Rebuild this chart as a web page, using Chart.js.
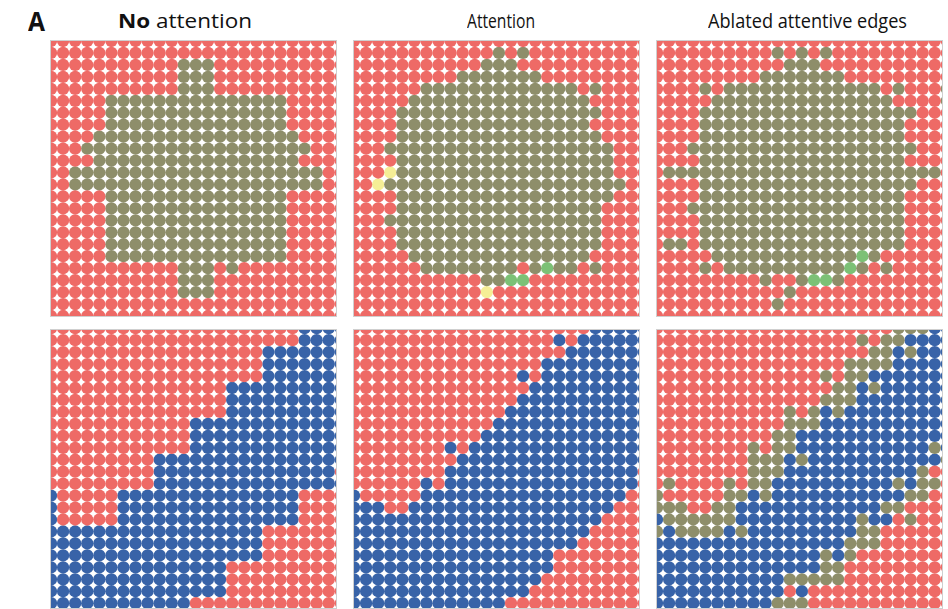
<!DOCTYPE html>
<html>
<head>
<meta charset="utf-8">
<script src="https://cdn.jsdelivr.net/npm/chart.js@4.4.0/dist/chart.umd.min.js"></script>
<style>
  body { margin: 0; background: #fff; }
  #page { position: relative; width: 948px; height: 609px; overflow: hidden; }
  .panel { position: absolute; border: 1px solid #cfcfcf; }
  .panel canvas { display: block; }
  .txt { position: absolute; white-space: nowrap; color: #111;
         font-family: "Open Sans", "Noto Sans", sans-serif;
         transform-origin: 0 0; }
</style>
</head>
<body>
<div id="page"></div>
<script>
// cell states: . red, o olive, # blue, y yellow, g green
const stateColors = {
  '.': '#ee6a66',
  'o': '#8e8e6a',
  '#': '#3863a8',
  'y': '#f5ee96',
  'g': '#7cc176'
};

const panelTitles = ['No attention', 'Attention', 'Ablated attentive edges'];

const noAttentionTop = [
  ".........................",
  ".........................",
  "...........ooo...........",
  "...........ooo...........",
  "...........ooo...........",
  ".....ooooooooooooooo.....",
  ".....ooooooooooooooo.....",
  ".....ooooooooooooooo.....",
  "....ooooooooooooooooo....",
  "...ooooooooooooooooooo...",
  "....ooooooooooooooooo....",
  "..ooooooooooooooooooooo..",
  "..ooooooooooooooooooooo..",
  ".....ooooooooooooooo.....",
  ".....ooooooooooooooo.....",
  ".....ooooooooooooooo.....",
  ".....ooooooooooooooo.....",
  ".....ooooooooooooooo.....",
  ".....ooooooooooooooo.....",
  "...........ooo.o.........",
  "...........ooo...........",
  "...........ooo...........",
  ".........................",
  "........................."
];

const attentionTop = [
  ".........................",
  "............o.o..........",
  "...........ooo...........",
  ".........ooooooo.........",
  "......ooooooooooooo.o....",
  ".....ooooooooooooooo.....",
  "....ooooooooooooooooo....",
  "....oooooooooooooooo.....",
  "....ooooooooooooooooo....",
  "...ooooooooooooooooooo...",
  "....oooooooooooooooooo...",
  "...yoooooooooooooooooo...",
  "..yoooooooooooooooooooo..",
  "....oooooooooooooooooo...",
  "....ooooooooooooooooo....",
  "...oooooooooooooooooo....",
  "....ooooooooooooooooo....",
  "....ooooooooooooooooo....",
  ".....ooooooooooooooo.....",
  "......oooooooo.ogoo.o....",
  "...........oogg..........",
  "...........y.............",
  ".........................",
  "........................."
];

const ablatedTop = [
  ".........................",
  "..........o.o.o..........",
  "...........ooo...........",
  ".........ooooooo.........",
  "....o.ooooooooooooo.o...o",
  ".....ooooooooooooooo....o",
  "....oooooooooooooooooo...",
  "....ooooooooooooooooo....",
  "....ooooooooooooooooo....",
  "...ooooooooooooooooooo...",
  "....ooooooooooooooooo....",
  ".ooooooooooooooooooooooo.",
  "....oooooooooooooooooo...",
  "....ooooooooooooooooo....",
  "...oooooooooooooooooo....",
  "....ooooooooooooooooo....",
  "....ooooooooooooooooo....",
  ".oo.ooooooooooooooooo....",
  ".....oooooooooooogo......",
  "....o.oooooooooogo.o.....",
  ".........o..oggo.........",
  "...........o.............",
  "..........o..............",
  "........................."
];

const noAttentionBottom = [
  ".....................####",
  ".....................####",
  "..................#######",
  "..................#######",
  "..................#######",
  "...............##########",
  "...............##########",
  "...............##########",
  "............#############",
  "............#############",
  "............#############",
  ".........################",
  ".........###############.",
  ".........################",
  "#.....###############....",
  "#.....###############....",
  "#.....###############....",
  "##################.......",
  "##################.......",
  "##################.......",
  "###############..........",
  "###############..........",
  "###############..........",
  "############............."
];

const attentionBottom = [
  "....................#####",
  ".................#.######",
  "..................#######",
  "................#########",
  "..............#.#########",
  "...............##########",
  "..............###########",
  ".............############",
  "............#############",
  "...........##############",
  "........#.###############",
  ".........################",
  "........################.",
  "......#.################.",
  "#.....#################..",
  "###..#################...",
  "#####################....",
  "####################.....",
  "###################......",
  "#################........",
  "#################........",
  "################.........",
  "###############..........",
  "#############............"
];

const ablatedBottom = [
  "....................ooo##",
  ".................o.oo####",
  "..................oo#o###",
  "................oooo#####",
  "..............o.oo#######",
  "...............oo#o######",
  "..............ooo########",
  "...........o.o#o#########",
  "...........ooo###########",
  "..........oo#############",
  "........o.oo###########o#",
  "........ooo#o###########o",
  "........ooo###########o..",
  ".o....o.oo##########o#oo.",
  "o.....oo#o###########oo..",
  "ooo..oo############oo....",
  "#oooooo##########o##.o...",
  "o#oooo#o#########oo......",
  "################ooo......",
  "##############o#o........",
  "##############oo.........",
  "###########ooooo.........",
  "###########.#............",
  "##########ooo............"
];

const page = document.getElementById('page');

// text: "A" label and the three column headings
function addText(html, left, top, size, weight, fitWidth) {
  const el = document.createElement('div');
  el.className = 'txt';
  el.innerHTML = html;
  el.style.left = left + 'px';
  el.style.top = top + 'px';
  el.style.fontSize = size + 'px';
  el.style.lineHeight = size + 'px';
  el.style.fontWeight = weight;
  page.appendChild(el);
  if (fitWidth) {
    const w = el.getBoundingClientRect().width;
    el.style.transform = 'scaleX(' + (fitWidth / w) + ')';
  }
}
addText('A', 28, 7, 27, 'bold', 17);
addText('<b>No</b> attention', 118, 11, 20, 'normal', 134);
addText(panelTitles[1], 467, 11, 20, 'normal', 68);
addText(panelTitles[2], 708, 11, 20, 'normal', 199);

function datasetsFor(grid) {
  const groups = {};
  grid.forEach((row, r) => {
    for (let c = 0; c < row.length; c++) {
      const k = row[c];
      if (!groups[k]) groups[k] = [];
      groups[k].push({ x: c, y: r });
    }
  });
  return Object.keys(groups).map(k => ({
    data: groups[k],
    backgroundColor: stateColors[k],
    borderWidth: 0,
    pointRadius: 6.15,
    pointHoverRadius: 6.15,
    clip: 0
  }));
}

function addPanel(grid, left, top, w, h, yMin, yMax) {
  const box = document.createElement('div');
  box.className = 'panel';
  box.style.left = (left - 1) + 'px';
  box.style.top = (top - 1) + 'px';
  const cv = document.createElement('canvas');
  cv.width = w;
  cv.height = h;
  cv.style.width = w + 'px';
  cv.style.height = h + 'px';
  box.appendChild(cv);
  page.appendChild(box);

  new Chart(cv, {
    type: 'scatter',
    data: { datasets: datasetsFor(grid) },
    options: {
      responsive: false,
      animation: false,
      events: [],
      layout: { padding: 0, autoPadding: false },
      plugins: { legend: { display: false }, tooltip: { enabled: false } },
      scales: {
        x: { type: 'linear', min: 0, max: 23.6, display: false },
        y: { type: 'linear', min: yMin, max: yMax, reverse: true, display: false }
      }
    }
  });
}

addPanel(noAttentionTop, 51, 41, 285, 275, 0, 23);
addPanel(attentionTop, 354, 41, 285, 275, 0, 23);
addPanel(ablatedTop, 657, 41, 285, 275, 0, 23);
addPanel(noAttentionBottom, 51, 330, 285, 278, 0.15, 23.4);
addPanel(attentionBottom, 354, 330, 285, 278, 0.15, 23.4);
addPanel(ablatedBottom, 657, 330, 285, 278, 0.15, 23.4);
</script>
</body>
</html>
